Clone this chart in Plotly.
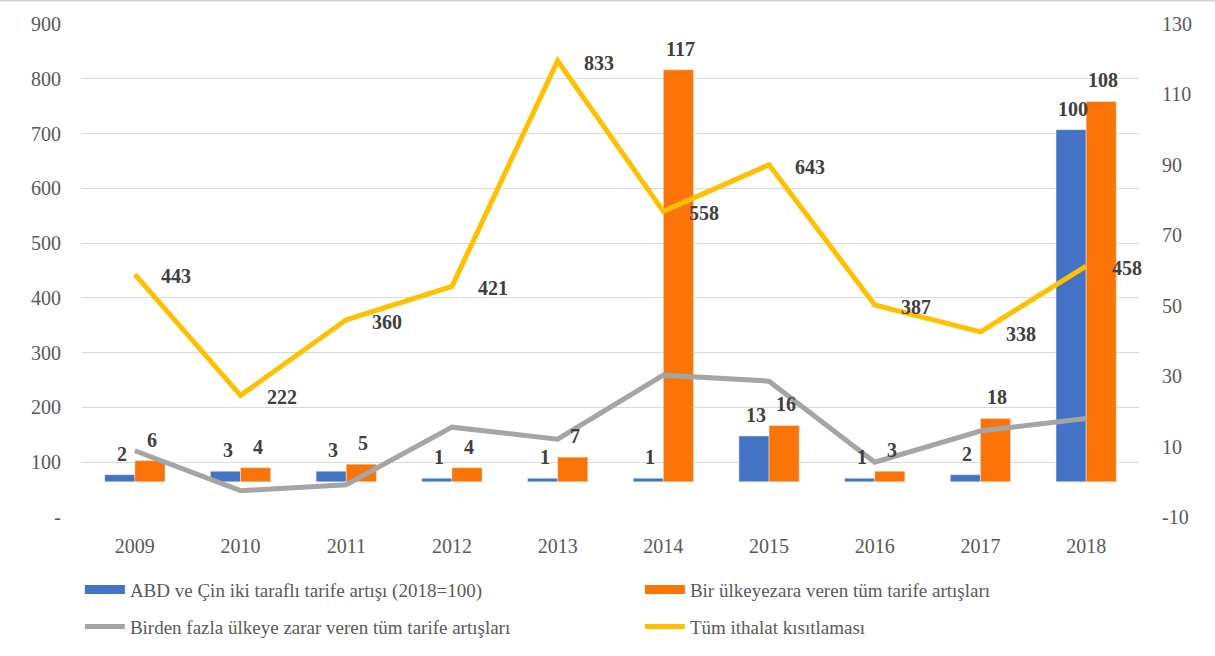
import plotly.graph_objects as go

years = ["2009", "2010", "2011", "2012", "2013", "2014", "2015", "2016", "2017", "2018"]
abd_cin = [2, 3, 3, 1, 1, 1, 13, 1, 2, 100]
bir_ulke = [6, 4, 5, 4, 7, 117, 16, 3, 18, 108]
birden_fazla = [121, 48, 59, 164, 142, 259, 248, 100, 157, 180]
tum_ithalat = [443, 222, 360, 421, 833, 558, 643, 387, 338, 458]

left_ticks = [0, 100, 200, 300, 400, 500, 600, 700, 800, 900]
left_labels = ["-", "100", "200", "300", "400", "500", "600", "700", "800", "900"]
right_ticks = [-10, 10, 30, 50, 70, 90, 110, 130]
right_labels = ["-10", "10", "30", "50", "70", "90", "110", "130"]

names = [
    "ABD ve Çin iki taraflı tarife artışı (2018=100)",
    "Bir ülkeyezara veren tüm tarife artışları",
    "Birden fazla ülkeye zarar veren tüm tarife artışları",
    "Tüm ithalat kısıtlaması",
]
BLUE = "#4472C4"
ORANGE = "#FA7408"
GREY = "#A5A5A5"
YELLOW = "#FFC000"
FONT = "Liberation Serif"
TXT = "#595959"

traces = []
# bars sit on the right-hand scale (yaxis), lines on the left one (yaxis2, drawn on top)
traces.append(go.Bar(x=years, y=abd_cin, marker_color=BLUE, yaxis="y",
                     showlegend=False, name=names[0]))
traces.append(go.Bar(x=years, y=bir_ulke, marker_color=ORANGE, yaxis="y",
                     showlegend=False, name=names[1]))
traces.append(go.Scatter(x=years, y=birden_fazla, mode="lines", yaxis="y2",
                         line=dict(color=GREY, width=5), showlegend=False))
traces.append(go.Scatter(x=years, y=tum_ithalat, mode="lines", yaxis="y2",
                         line=dict(color=YELLOW, width=5), showlegend=False))

# legend-only entries
traces.append(go.Scatter(x=[None], y=[None], mode="lines", yaxis="y2", name=names[0],
                         line=dict(color=BLUE, width=9), legend="legend"))
traces.append(go.Scatter(x=[None], y=[None], mode="lines", yaxis="y2", name=names[1],
                         line=dict(color=ORANGE, width=9), legend="legend"))
traces.append(go.Scatter(x=[None], y=[None], mode="lines", yaxis="y2", name=names[2],
                         line=dict(color=GREY, width=5), legend="legend2"))
traces.append(go.Scatter(x=[None], y=[None], mode="lines", yaxis="y2", name=names[3],
                         line=dict(color=YELLOW, width=5), legend="legend2"))

annotations = []
lab_font = dict(family=FONT, size=20, color="#404040", weight="bold")
for i, yr in enumerate(years):
    annotations.append(dict(x=i, y=abd_cin[i], xref="x", yref="y", text=str(abd_cin[i]),
                            showarrow=False, xshift=-13, yshift=21, font=lab_font))
    annotations.append(dict(x=i, y=bir_ulke[i], xref="x", yref="y", text=str(bir_ulke[i]),
                            showarrow=False, xshift=17, yshift=21, font=lab_font))
    annotations.append(dict(x=i, y=tum_ithalat[i], xref="x", yref="y2", text=str(tum_ithalat[i]),
                            showarrow=False, xanchor="left", xshift=24, yshift=-2, font=lab_font))

leg_common = dict(orientation="h", xanchor="left", yanchor="middle",
                  font=dict(family=FONT, size=19, color=TXT),
                  entrywidth=505, entrywidthmode="pixels", itemwidth=40,
                  bgcolor="rgba(0,0,0,0)")

layout = go.Layout(
    width=1215,
    height=656,
    margin=dict(l=82, r=76, t=24, b=138),
    paper_bgcolor="white",
    plot_bgcolor="white",
    barmode="group",
    bargap=0.43,
    bargroupgap=0,
    font=dict(family=FONT, size=20, color=TXT),
    xaxis=dict(type="category", range=[-0.5, 9.5], showgrid=False, ticks="", showline=False,
               ticklabelstandoff=15, tickfont=dict(family=FONT, size=20, color=TXT)),
    yaxis=dict(side="right", range=[-10, 130], tickvals=right_ticks, ticktext=right_labels,
               showgrid=False, zeroline=False, showline=False, ticks="", ticklabelstandoff=22,
               tickfont=dict(family=FONT, size=20, color=TXT)),
    yaxis2=dict(side="left", overlaying="y", range=[0, 900], tickvals=left_ticks,
                ticktext=left_labels, showgrid=True, gridcolor="#D9D9D9", gridwidth=1,
                zeroline=False, showline=False, ticks="", ticklabelstandoff=20,
                tickfont=dict(family=FONT, size=20, color=TXT)),
    legend=dict(x=-0.002, y=-0.145, **leg_common),
    legend2=dict(x=-0.002, y=-0.22, **leg_common),
    annotations=annotations,
    # thin frame line along the top edge of the chart area
    shapes=[dict(type="line", xref="paper", yref="paper", x0=-0.08, x1=1.08,
                 y0=1.047, y1=1.047, line=dict(color="#D0D0D0", width=1.5))],
)

fig = go.Figure(data=traces, layout=layout)
# drop the browser's default 8px body margin so the figure fills the window exactly
fig.write_html("out.html", config={"displayModeBar": False},
               post_script="document.body.style.margin='0px';")
